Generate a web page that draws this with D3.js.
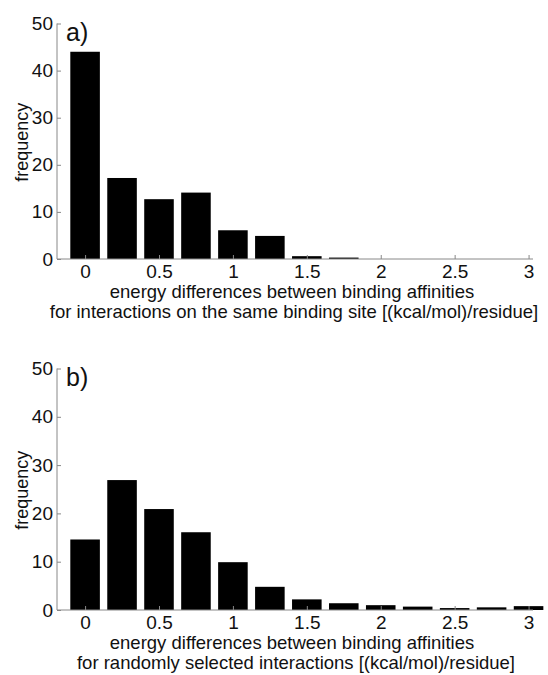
<!DOCTYPE html>
<html>
<head>
<meta charset="utf-8">
<script src="https://cdn.jsdelivr.net/npm/d3@7"></script>
<style>
  html, body { margin: 0; padding: 0; background: #fff; }
  svg { display: block; }
  text { font-family: "Liberation Sans", Arial, sans-serif; fill: #111; }
</style>
</head>
<body>
<svg id="chart" width="548" height="675"></svg>
<script>
// Bin centers (kcal/mol/residue)
const binsA = [0, 0.25, 0.5, 0.75, 1.0, 1.25, 1.5, 1.75];
const freqA = [44, 17.2, 12.7, 14.1, 6.1, 4.9, 0.6, 0.3];
const binsB = [0, 0.25, 0.5, 0.75, 1.0, 1.25, 1.5, 1.75, 2.0, 2.25, 2.5, 2.75, 3.0];
const freqB = [14.6, 26.9, 20.9, 16.1, 9.9, 4.8, 2.2, 1.4, 1.0, 0.7, 0.4, 0.55, 0.8];
const xTicks = [0, 0.5, 1, 1.5, 2, 2.5, 3];
const yTicks = [0, 10, 20, 30, 40, 50];
const xLabelLine1 = "energy differences between binding affinities";
const xLabelA2 = "for interactions on the same binding site [(kcal/mol)/residue]";
const xLabelB2 = "for randomly selected interactions [(kcal/mol)/residue]";
const binWidth = 0.25;

const svg = d3.select("#chart");
const FF = "'Liberation Sans', Arial, sans-serif";

function panel(cfg) {
  const g = svg.append("g");
  const x = d3.scaleLinear().domain([-0.19, 3.03]).range([57, 533]);
  const y = d3.scaleLinear().domain([0, 50]).range([cfg.y0, cfg.y50]);
  const bw = x(binWidth * 0.8) - x(0);

  g.selectAll("rect.bar").data(cfg.bins).join("rect")
    .attr("class", "bar")
    .attr("x", d => x(d) - bw / 2)
    .attr("width", bw)
    .attr("y", (d, i) => y(cfg.freq[i]))
    .attr("height", (d, i) => y(0) - y(cfg.freq[i]))
    .attr("fill", "#000");

  // x axis (ticks inward)
  const xa = g.append("g").attr("transform", `translate(0,${y(0)})`)
    .call(d3.axisBottom(x).tickValues(xTicks).tickSize(-4).tickPadding(8)
      .tickFormat(d3.format("")));
  xa.select(".domain").attr("stroke", "#888").attr("d", `M${x.range()[0]},0H${x.range()[1]}`);
  xa.selectAll(".tick line").attr("stroke", "#888");
  xa.selectAll(".tick text").attr("font-size", 19).attr("dy", "0.71em")
    .attr("y", 6).style("font-family", FF).attr("fill", "#111");

  // y axis
  const ya = g.append("g").attr("transform", `translate(57,0)`)
    .call(d3.axisLeft(y).tickValues(yTicks).tickSize(-4).tickPadding(6));
  ya.select(".domain").attr("stroke", "#888").attr("d", `M0,${y(0)}V${y(50)}`);
  ya.selectAll(".tick line").attr("stroke", "#888");
  ya.selectAll(".tick text").attr("font-size", 19).attr("x", -4)
    .style("font-family", FF).attr("fill", "#111");

  // panel letter
  g.append("text").attr("x", 66).attr("y", y(50) + 17)
    .attr("font-size", 25).text(cfg.letter);

  // y label
  g.append("text")
    .attr("transform", `translate(28,${(y(0) + y(50)) / 2 + 1}) rotate(-90)`)
    .attr("text-anchor", "middle").attr("font-size", 18).text("frequency");

  // x label
  g.append("text").attr("x", 292).attr("y", y(0) + 39)
    .attr("text-anchor", "middle").attr("font-size", 18.5).text(xLabelLine1);
  g.append("text").attr("x", cfg.l2x).attr("y", y(0) + 59)
    .attr("text-anchor", "middle").attr("font-size", 18.5).text(cfg.l2);
}

panel({ bins: binsA, freq: freqA, y0: 259, y50: 23.5, letter: "a)", l2: xLabelA2, l2x: 294 });
panel({ bins: binsB, freq: freqB, y0: 610, y50: 368.5, letter: "b)", l2: xLabelB2, l2x: 296 });
</script>
</body>
</html>
